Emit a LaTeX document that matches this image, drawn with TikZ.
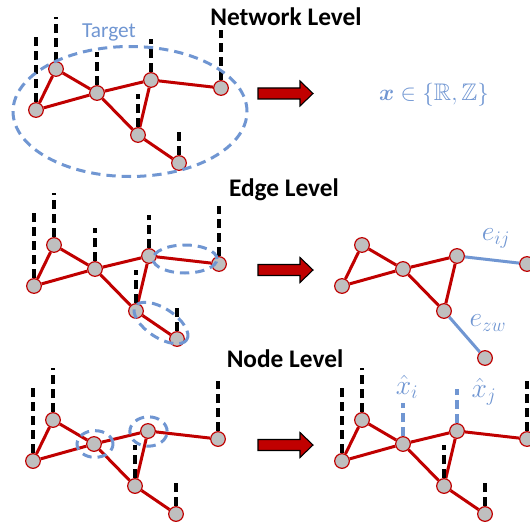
\documentclass[tikz,border=0pt]{standalone}
\usepackage{fontspec}
\setmainfont{Carlito}
\usepackage{amsmath,amssymb,bm}
\usetikzlibrary{shapes.geometric,calc}
\definecolor{nred}{HTML}{C00000}
\definecolor{ngray}{HTML}{BFBFBF}
\definecolor{nblue}{RGB}{112,150,210}
\tikzset{
 nd/.style={circle,draw=nred,fill=ngray,line width=0.9pt,minimum size=11pt,inner sep=0pt},
 ed/.style={draw=nred,line width=2.25pt},
 bed/.style={draw=nblue,line width=2.25pt},
 bar/.style={draw=black,line width=3pt,dash pattern=on 6.75pt off 3.75pt},
 bbar/.style={draw=nblue,line width=3pt,dash pattern=on 6.75pt off 3.75pt},
 ell/.style={ellipse,draw=nblue,line width=2.25pt,dash pattern=on 7pt off 4.5pt,inner sep=0pt},
 ttl/.style={font=\fontsize{19}{21}\selectfont\bfseries},
 mlab/.style={text=nblue,font=\fontsize{18}{20}\selectfont},
 slab/.style={text=nblue,font=\fontsize{20}{22}\selectfont,inner sep=0pt},
 barrow/.style={fill=nred,draw=black,line width=0.8pt},
}
\newcommand\gnodes[4]{%
 \node[nd] (#1a) at (36+#2,110+#3) {};
 \node[nd] (#1b) at (56+#2,69+#3) {};
 \node[nd] (#1c) at (97+#2,93+#3) {};
 \node[nd] (#1d) at (151+#2,80+#3) {};
 \node[nd] (#1e) at (221+#2,88+#3) {};
 \node[nd] (#1f) at (138+#2,135+#3) {};
 \node[nd] (#1g) at (179+#2,163+#3+#4) {};
}
\newcommand\gedges[1]{\draw[ed] (#1a)--(#1b) (#1a)--(#1c) (#1b)--(#1c) (#1c)--(#1d) (#1c)--(#1f) (#1d)--(#1f);}
\newcommand\gbar[3]{\draw[#3] (#1.north) -- ($(#1)+(0,-#2)$);}
\newcommand\blockarrow[1]{%
 \filldraw[barrow] (258,#1-5.5) -- (300,#1-5.5) -- (300,#1-12.5) -- (313,#1) -- (300,#1+12.5) -- (300,#1+5.5) -- (258,#1+5.5) -- cycle;}
\begin{document}
\begin{tikzpicture}[x=0.75pt,y=-0.75pt]
\useasboundingbox (0,0) rectangle (530,524);
% ---------- Network level ----------
\gnodes{p}{0}{0}{0}
\gedges{p}
\draw[ed] (pd)--(pe) (pf)--(pg);
\gbar{pa}{77}{bar}\gbar{pb}{52}{bar}\gbar{pc}{41}{bar}\gbar{pd}{41}{bar}
\gbar{pe}{58}{bar}\gbar{pf}{41}{bar}\gbar{pg}{35}{bar}
\node[ell,minimum width=175.5pt,minimum height=97.5pt] (target) at (130,111.5) {};
\node[text=nblue,font=\fontsize{16}{18}\selectfont] (tlab) at (109,32) {Target};
\node[ttl] (t1) at (286,17) {Network Level};
\blockarrow{93.5}
\node[mlab] (m1) at (434,95) {$\boldsymbol{x}\in\{\mathbb{R},\mathbb{Z}\}$};
% ---------- Edge level ----------
\gnodes{q}{-2}{176}{0}
\gedges{q}
\draw[ed] (qd)--(qe) (qf)--(qg);
\gbar{qa}{77}{bar}\gbar{qb}{52}{bar}\gbar{qc}{41}{bar}\gbar{qd}{41}{bar}
\gbar{qe}{58}{bar}\gbar{qf}{41}{bar}\gbar{qg}{35}{bar}
\node[ell,minimum width=48pt,minimum height=21pt] (e1) at (185,259) {};
\node[ell,minimum width=46pt,minimum height=22pt,rotate=-33] (e2) at (161,323) {};
\node[ttl] (t2) at (284,190) {Edge Level};
\blockarrow{270}
\gnodes{r}{306}{176}{19}
\gedges{r}
\draw[bed] (rd)--(re) (rf)--(rg);
\node[slab] (lij) at (496,238) {$e_{ij}$};
\node[slab] (lzw) at (488,323) {$e_{zw}$};
% ---------- Node level ----------
\gnodes{s}{-3}{351}{0}
\gedges{s}
\draw[ed] (sd)--(se) (sf)--(sg);
\gbar{sa}{77}{bar}\gbar{sb}{52}{bar}
\gbar{se}{58}{bar}\gbar{sf}{41}{bar}\gbar{sg}{35}{bar}
\node[ell,minimum width=27pt,minimum height=20pt] (c1) at (95,444) {};
\node[ell,minimum width=28pt,minimum height=22pt] (c2) at (148.5,431.5) {};
\node[ttl] (t3) at (285,359) {Node Level};
\blockarrow{445}
\gnodes{u}{306}{351}{0}
\gedges{u}
\draw[ed] (ud)--(ue) (uf)--(ug);
\gbar{ua}{77}{bar}\gbar{ub}{52}{bar}\gbar{uc}{41}{bbar}\gbar{ud}{42}{bbar}
\gbar{ue}{58}{bar}\gbar{uf}{41}{bar}\gbar{ug}{35}{bar}
\node[slab] (hxi) at (407,387) {$\hat{x}_i$};
\node[slab] (hxj) at (484,392) {$\hat{x}_j$};
\end{tikzpicture}
\end{document}
